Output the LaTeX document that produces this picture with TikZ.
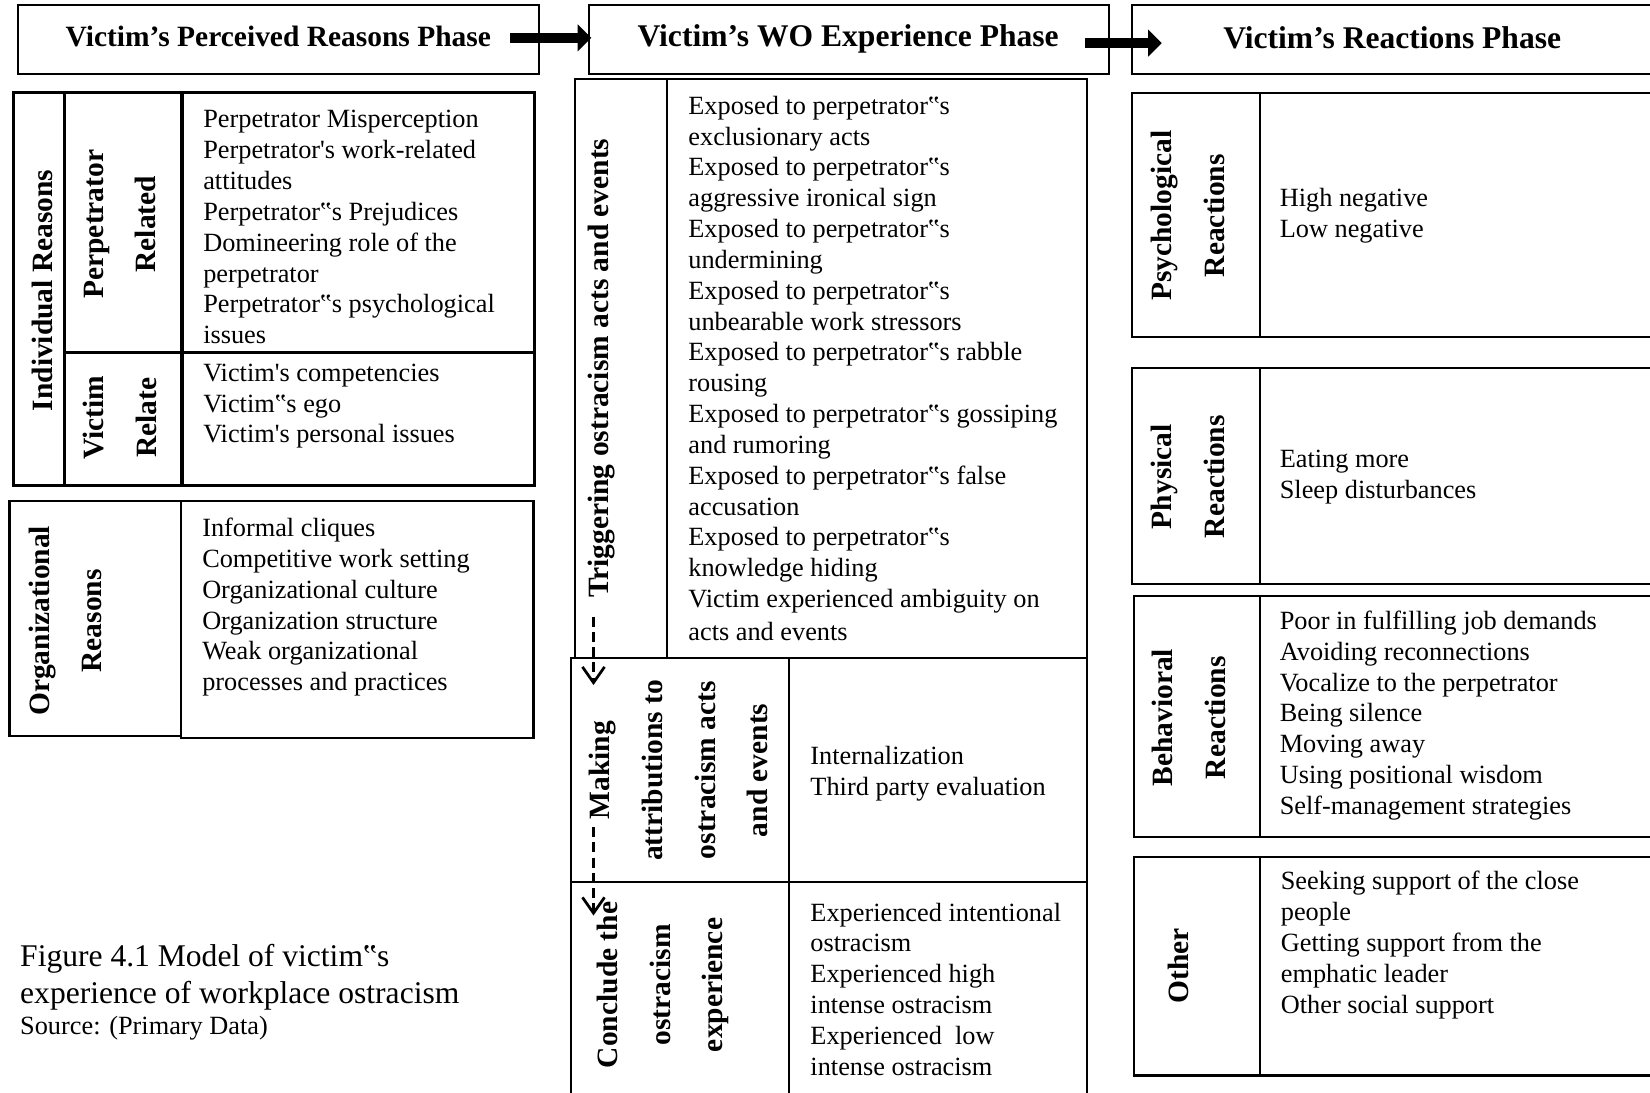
\documentclass[tikz,border=0pt]{standalone}
\usepackage{fontspec}
\setmainfont{Liberation Serif}
\usetikzlibrary{arrows.meta}
\begin{document}
\begin{tikzpicture}[x=1pt,y=-1pt,
  box/.style={draw, line width=2pt},
  thickbox/.style={draw, line width=3pt},
  lst/.style={anchor=west, align=left, inner sep=0pt, font=\fontsize{25}{29.3}\selectfont},
  lbl/.style={rotate=90, align=center, inner sep=0pt, font=\fontsize{28}{50}\selectfont\bfseries},
  ttl/.style={inner sep=0pt, font=\fontsize{30}{36}\selectfont\bfseries},
  captxt/.style={anchor=west, inner sep=0pt, font=\fontsize{30}{35}\selectfont},
  blockarrow/.style={line width=10pt, -{Triangle[length=13pt,width=25pt]}},
  dasharrow/.style={line width=2.6pt, dash pattern=on 9.5pt off 5pt, -{Straight Barb[length=15pt,width=21pt,line width=2.6pt]}}
]
\useasboundingbox (0,0) rectangle (1568,1038);

% ---------- phase headers ----------
\draw[box] (17,5) rectangle (512,70);
\draw[box] (560,5) rectangle (1054,70);
\draw[box] (1076,5) rectangle (1620,70);
\node[ttl, font=\fontsize{28}{34}\selectfont\bfseries] (t1) at (264.5,35) {Victim’s Perceived Reasons Phase};
\node[ttl] (t2) at (806,37) {Victim’s WO Experience Phase};
\node[ttl] (t3) at (1323,36) {Victim’s Reactions Phase};

\coordinate (a1s) at (485,36);
\coordinate (a1e) at (562,36);
\coordinate (a2s) at (1031,41);
\coordinate (a2e) at (1104,41);
\draw[blockarrow] (a1s) -- (a1e);
\draw[blockarrow] (a2s) -- (a2e);

% ---------- individual reasons ----------
\draw[thickbox] (13,88) rectangle (508,461);
\draw[thickbox] (61,88) -- (61,461);
\draw[thickbox] (173,88) -- (173,461);
\draw[thickbox] (61,335) -- (508,335);
\node[lbl] (ir) at (40,276) {Individual Reasons};
\node[lbl] (pr) at (114,213) {Perpetrator\\Related};
\node[lbl] (vr) at (114,397) {Victim\\Relate};
\node[lst] (prl) at (193,216) {Perpetrator Misperception\\
Perpetrator\textquotesingle s work-related\\
attitudes\\
Perpetrator‟s Prejudices\\
Domineering role of the\\
perpetrator\\
Perpetrator‟s psychological\\
issues};
\node[lst] (vrl) at (193,386) {Victim\textquotesingle s competencies\\
Victim‟s ego\\
Victim\textquotesingle s personal issues};

% ---------- organizational reasons ----------
\draw[box] (9,476) rectangle (172,699);
\draw[box] (172,476) rectangle (507,701);
\node[lbl] (or) at (62,590) {Organizational\\Reasons};
\node[lst] (orl) at (192,577) {Informal cliques\\
Competitive work setting\\
Organizational culture\\
Organization structure\\
Weak organizational\\
processes and practices};

% ---------- caption ----------
\node[captxt] (c1) at (19,911) {Figure 4.1 Model of victim‟s};
\node[captxt] (c2) at (19,946) {experience of workplace ostracism};
\node[captxt, font=\fontsize{25}{29}\selectfont] (c3) at (19,977) {Source: (Primary Data)};

% ---------- WO experience ----------
\draw[box] (546,75) rectangle (1033,625);
\draw[box] (634,75) -- (634,625);
\node[lbl] (trg) at (572,350) {Triggering ostracism acts and events};
\node[lst] (trl) at (654,350) {Exposed to perpetrator‟s\\
exclusionary acts\\
Exposed to perpetrator‟s\\
aggressive ironical sign\\
Exposed to perpetrator‟s\\
undermining\\
Exposed to perpetrator‟s\\
unbearable work stressors\\
Exposed to perpetrator‟s rabble\\
rousing\\
Exposed to perpetrator‟s gossiping\\
and rumoring\\
Exposed to perpetrator‟s false\\
accusation\\
Exposed to perpetrator‟s\\
knowledge hiding\\
Victim experienced ambiguity on\\[2pt]
acts and events};

\draw[box] (543,625) rectangle (1033,838);
\draw[box] (750,625) -- (750,838);
\node[lbl] (mk) at (645,732) {Making\\attributions to\\ostracism acts\\and events};
\node[lst] (mkl) at (770,735) {Internalization\\
Third party evaluation};

\draw[box] (543,838) -- (543,1060);
\draw[box] (543,838) -- (1033,838);
\draw[box] (750,838) -- (750,1060);
\draw[box] (1033,838) -- (1033,1060);
\node[lbl] (cc) at (630,936) {Conclude the\\ostracism\\experience};
\node[lst] (ccl) at (770,940) {Experienced intentional\\
ostracism\\
Experienced high\\
intense ostracism\\
Experienced \ low\\
intense ostracism};

\coordinate (d1s) at (564,586);
\coordinate (d1e) at (564,651);
\coordinate (d2s) at (564,786);
\coordinate (d2e) at (564,870);
\draw[dasharrow] (d1s) -- (d1e);
\draw[dasharrow] (d2s) -- (d2e);

% ---------- reactions ----------
\draw[box] (1076,88) rectangle (1620,320);
\draw[box] (1197,88) -- (1197,320);
\node[lbl] (ps) at (1129,205) {Psychological\\Reactions};
\node[lst] (psl) at (1216,205) {High negative\\Low negative};

\draw[box] (1076,350) rectangle (1620,555);
\draw[box] (1197,350) -- (1197,555);
\node[lbl] (ph) at (1129,453) {Physical\\Reactions};
\node[lst] (phl) at (1216,453) {Eating more\\Sleep disturbances};

\draw[box] (1078,566) rectangle (1620,795);
\draw[box] (1197,566) -- (1197,795);
\node[lbl] (bh) at (1130,682) {Behavioral\\Reactions};
\node[lst] (bhl) at (1216,680) {Poor in fulfilling job demands\\
Avoiding reconnections\\
Vocalize to the perpetrator\\
Being silence\\
Moving away\\
Using positional wisdom\\
Self-management strategies};

\draw[box] (1078,814) rectangle (1620,1022);
\draw[box] (1197,814) -- (1197,1022);
\node[lbl] (ot) at (1120,918) {Other};
\node[lst] (otl) at (1217,898) {Seeking support of the close\\
people\\
Getting support from the\\
emphatic leader\\
Other social support};
\end{tikzpicture}
\end{document}
